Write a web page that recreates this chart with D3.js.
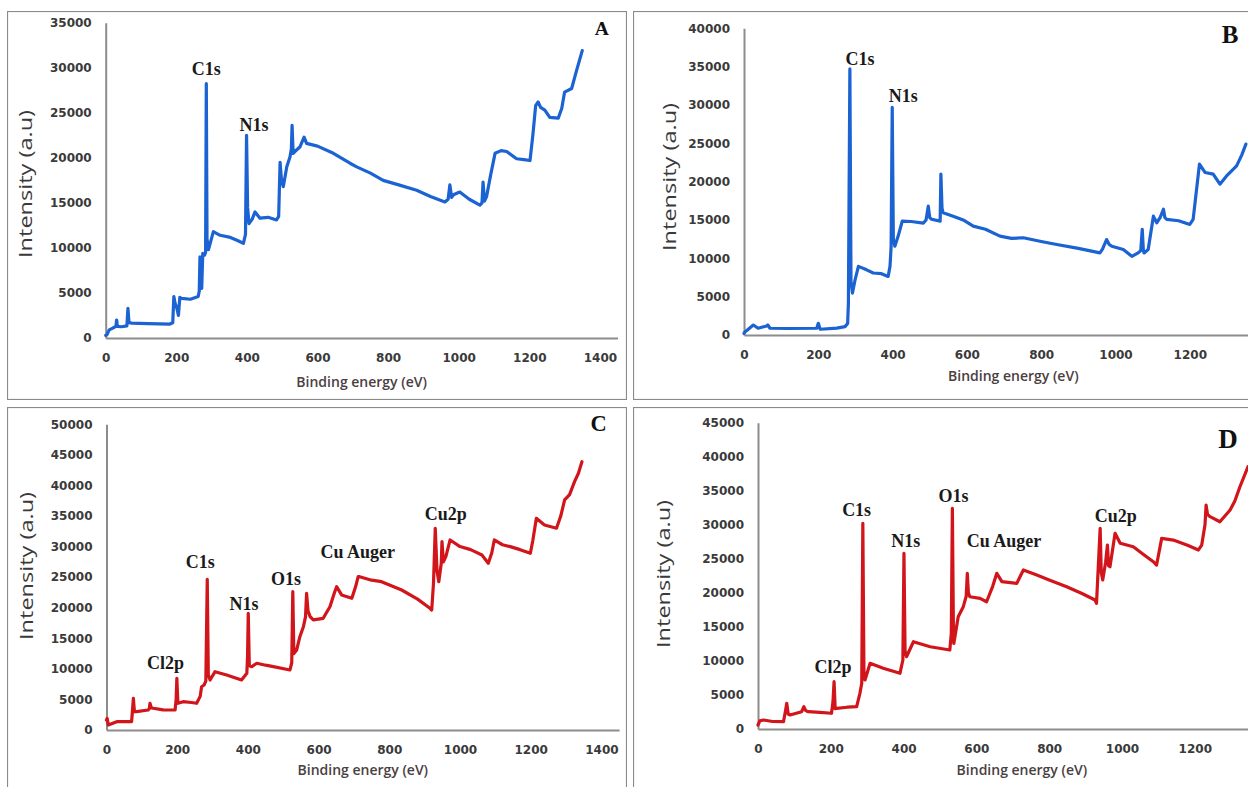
<!DOCTYPE html>
<html>
<head>
<meta charset="utf-8">
<script src="https://cdn.jsdelivr.net/npm/d3@7"></script>
<style>
  html, body { margin: 0; padding: 0; background: #fff; }
  svg { display: block; }
</style>
</head>
<body>
<svg id="fig" width="1248" height="787"></svg>
<script>
// XPS survey spectra: [binding energy (eV), intensity (a.u.)]
const spectrumA = [
  [0,300],[3,330],[10,900],[20,1100],[29,1300],[31,2000],[33,1300],[45,1250],[60,1350],[63,3300],[66,1700],[74,1660],
  [120,1600],[182,1550],[190,1700],[193,4600],[197,3800],[201,3400],[206,2500],[210,4500],[215,4400],[240,4300],
  [262,4600],[265,5200],[267,9000],[272,5500],[275,9400],[280,9200],[283,9500],[285,28250],[287,11000],[291,9800],
  [296,10500],[305,11800],[324,11400],[350,11200],[375,10800],[390,10500],[396,11500],[399,22500],[402,14500],
  [406,12700],[415,13200],[423,14000],[437,13300],[460,13400],[484,13100],[490,13500],[494,19500],[498,17500],
  [503,16800],[513,19000],[522,20100],[526,21000],[528,23600],[531,20500],[536,20700],[550,21200],[562,22300],
  [569,21600],[600,21300],[645,20500],[692,19400],[711,19000],[750,18300],[786,17500],[830,17000],[881,16400],
  [920,15700],[961,15100],[970,15400],[975,17000],[980,15600],[985,15900],[1003,16200],[1030,15400],[1060,14750],
  [1066,15000],[1069,17300],[1073,15200],[1079,15700],[1090,18000],[1103,20500],[1120,20800],[1136,20700],
  [1164,19900],[1185,19800],[1202,19700],[1210,22500],[1218,25800],[1225,26200],[1232,25600],[1244,25300],
  [1258,24500],[1282,24400],[1292,25500],[1300,27300],[1320,27700],[1334,29700],[1350,31900]
];
const spectrumB = [
  [0,200],[3,430],[10,700],[25,1300],[38,880],[61,1180],[64,1300],[70,880],[120,850],[196,880],[200,1530],[205,750],
  [250,900],[272,1090],[279,1500],[281,4150],[285,34700],[288,7000],[292,5470],[299,7200],[308,8950],[330,8500],
  [348,8090],[370,8000],[388,7640],[393,8950],[396,11500],[399,29700],[402,12500],[406,11580],[415,12900],
  [426,14850],[450,14800],[483,14600],[490,15000],[496,16800],[500,15300],[505,15100],[528,14850],[530,21000],
  [533,16500],[536,15950],[563,15500],[590,15000],[617,14200],[650,13800],[689,12900],[720,12600],[752,12680],
  [800,12200],[842,11800],[900,11300],[958,10710],[965,11200],[976,12450],[983,11800],[990,11580],[1021,11140],
  [1044,10260],[1061,10710],[1068,11000],[1072,13770],[1075,11000],[1077,10710],[1088,11140],[1102,15500],
  [1111,14640],[1120,15300],[1129,16400],[1133,15300],[1138,15080],[1170,14900],[1200,14420],[1209,15080],
  [1226,22290],[1241,21200],[1263,20980],[1281,19670],[1299,20750],[1326,22060],[1340,23500],[1351,24900]
];
const spectrumC = [
  [0,1636],[2,1900],[5,820],[29,1360],[71,1360],[73,2800],[76,5190],[79,3000],[85,3000],[118,3270],[121,3500],
  [123,4370],[127,3600],[132,3550],[160,3300],[194,3270],[197,5000],[199,8460],[202,4370],[217,4630],[240,4500],
  [255,4370],[265,5500],[269,7080],[276,7360],[281,8000],[285,24650],[288,9000],[293,8180],[307,9540],[340,9000],
  [382,8180],[397,9270],[399,12000],[401,19090],[404,10500],[411,10360],[425,10910],[450,10600],[472,10360],
  [519,9820],[524,11000],[527,22630],[530,12500],[538,13090],[547,15260],[557,16900],[563,18500],[566,22360],
  [570,19500],[576,18540],[585,18000],[613,18270],[632,20170],[645,22500],[651,23440],[665,22090],[694,21550],
  [705,23500],[712,25080],[716,25080],[750,24500],[778,24260],[835,22900],[880,21400],[915,19910],[920,19630],
  [925,24000],[930,33000],[935,26000],[940,24260],[947,27270],[949,30800],[953,27500],[960,28350],[972,31080],
  [1000,30000],[1030,29500],[1062,28630],[1080,27270],[1090,29000],[1097,31080],[1120,30300],[1142,29990],
  [1170,29500],[1199,28900],[1206,31000],[1216,34630],[1239,33540],[1273,33000],[1285,35000],[1296,37630],
  [1310,38500],[1324,40620],[1335,42000],[1345,43890]
];
const spectrumD = [
  [0,590],[5,1200],[15,1320],[40,1100],[70,1070],[75,2500],[79,3780],[83,2200],[88,2060],[120,2540],[126,3280],
  [131,2700],[138,2540],[170,2450],[202,2310],[206,4000],[209,6950],[212,3000],[216,3040],[245,3200],[271,3280],
  [280,5240],[285,6710],[288,30220],[291,8500],[294,7200],[308,9650],[344,8920],[390,8180],[398,10140],
  [401,25810],[404,11500],[408,10620],[427,12820],[473,12090],[527,11600],[531,14000],[534,32420],[537,13500],
  [538,12580],[550,16500],[564,17970],[572,19500],[575,22870],[578,20000],[582,19430],[610,19200],[628,18700],
  [645,21000],[656,22870],[670,21640],[711,21400],[729,23360],[766,22620],[800,21900],[848,20900],[890,19900],
  [926,18950],[930,18460],[935,24000],[940,29480],[943,23000],[947,21890],[955,24500],[960,27030],[963,24000],
  [967,23840],[981,28750],[995,27280],[1031,26780],[1060,25600],[1086,24580],[1095,24090],[1109,28010],
  [1141,27760],[1180,27000],[1210,26300],[1219,27030],[1228,30000],[1231,32900],[1235,31500],[1242,31190],
  [1269,30450],[1297,32170],[1310,33500],[1324,35590],[1346,38530]
];

// Peak assignments, anchored in data coordinates [label, eV, intensity]
const peaksA = [["C1s",285,29170],["N1s",420,22960]];
const peaksB = [["C1s",312,35270],["N1s",429,30400]];
const peaksC = [["Cl2p",167,9980],["C1s",265,26500],["N1s",389,19630],["O1s",508,23720],["Cu Auger",711,28140],["Cu2p",960,34360]];
const peaksD = [["Cl2p",206,8230],["C1s",271,31290],["N1s",406,26810],["O1s",537,33420],["Cu Auger",676,26740],["Cu2p",983,30410]];

// Axis limits and tick values
const xTicksLeft = [0,200,400,600,800,1000,1200,1400];   // panels A, C
const xTicksRight = [0,200,400,600,800,1000,1200];       // panels B, D (page edge cuts the axis)
const xMax = 1450;
const yMaxA = 35000, yMaxB = 40000, yMaxC = 50000, yMaxD = 45000;
const yStep = 5000;

const BLUE = "#1b62d3", RED = "#d2151a";
const AXIS_GREY = "#8c8c8c";

// Panel layout (pixels)
const panels = [
  { letter:"A", data:spectrumA, peaks:peaksA, yMax:yMaxA, color:BLUE, xTicks:xTicksLeft,
    frame:[7,11,620,389], x0:105.7, pxPerEv:0.353, yBottom:338, yTop:22.7,
    yTitle:[25,184], xTitleY:387, letterPos:[601.7,35,19.5] },
  { letter:"B", data:spectrumB, peaks:peaksB, yMax:yMaxB, color:BLUE, xTicks:xTicksRight,
    frame:[633,11,640,389], x0:744, pxPerEv:0.3715, yBottom:335, yTop:28.3,
    yTitle:[669,177], xTitleY:381, letterPos:[1230,43,25] },
  { letter:"C", data:spectrumC, peaks:peaksC, yMax:yMaxC, color:RED, xTicks:xTicksLeft,
    frame:[7,407,620,400], x0:106.5, pxPerEv:0.3535, yBottom:730, yTop:424.3,
    yTitle:[26,566], xTitleY:775, letterPos:[598.6,431,22.5] },
  { letter:"D", data:spectrumD, peaks:peaksD, yMax:yMaxD, color:RED, xTicks:xTicksRight,
    frame:[633,407,640,400], x0:758, pxPerEv:0.364, yBottom:729, yTop:422.7,
    yTitle:[663.5,574], xTitleY:775, letterPos:[1228,448,27] }
];

const svg = d3.select("#fig");
const defs = svg.append("defs");

panels.forEach(p => {
  const [fx, fy, fw, fh] = p.frame;
  const clipId = "clip" + p.letter;
  defs.append("clipPath").attr("id", clipId)
    .append("rect").attr("x", fx).attr("y", fy).attr("width", fw).attr("height", fh);

  const g = svg.append("g").attr("clip-path", `url(#${clipId})`);

  // panel frame
  g.append("rect").attr("x", fx).attr("y", fy).attr("width", fw).attr("height", fh)
    .attr("fill", "#fff").attr("stroke", "#8a8a8a").attr("stroke-width", 2.2);

  const x = d3.scaleLinear().domain([0, xMax]).range([p.x0, p.x0 + xMax * p.pxPerEv]);
  const y = d3.scaleLinear().domain([0, p.yMax]).range([p.yBottom, p.yTop]);

  const yTicks = d3.range(0, p.yMax + 1, yStep);

  const yAxis = g.append("g").attr("transform", `translate(${p.x0},0)`)
    .call(d3.axisLeft(y).tickValues(yTicks).tickSize(0).tickSizeOuter(0).tickPadding(14).tickFormat(d3.format("d")));
  const xAxis = g.append("g").attr("transform", `translate(0,${p.yBottom})`)
    .call(d3.axisBottom(x).tickValues(p.xTicks).tickSize(0).tickSizeOuter(0).tickPadding(15).tickFormat(d3.format("d")));

  [yAxis, xAxis].forEach(ax => {
    ax.select(".domain").attr("stroke", AXIS_GREY).attr("stroke-width", 2);
    ax.selectAll("text").attr("font-family", "DejaVu Sans").attr("font-weight", "bold")
      .attr("font-size", 12).attr("fill", "#3a3a3a");
  });

  // spectrum
  const line = d3.line().x(d => x(d[0])).y(d => y(d[1]));
  g.append("path").datum(p.data).attr("d", line)
    .attr("fill", "none").attr("stroke", p.color).attr("stroke-width", 3.2)
    .attr("stroke-linejoin", "round").attr("stroke-linecap", "round");

  // peak labels
  g.selectAll("text.peak").data(p.peaks).join("text").attr("class", "peak")
    .attr("x", d => x(d[1])).attr("y", d => y(d[2]))
    .attr("text-anchor", "middle")
    .attr("font-family", "Liberation Serif").attr("font-weight", "bold").attr("font-size", 18)
    .attr("fill", "#1a1a1a").text(d => d[0]);

  // panel letter
  g.append("text").attr("x", p.letterPos[0]).attr("y", p.letterPos[1])
    .attr("text-anchor", "middle").attr("font-family", "Liberation Serif").attr("font-weight", "bold")
    .attr("font-size", p.letterPos[2]).attr("fill", "#111").text(p.letter);

  // axis titles
  g.append("text")
    .attr("transform", `translate(${p.yTitle[0]},${p.yTitle[1]}) rotate(-90)`)
    .attr("text-anchor", "middle").attr("dy", "0.35em")
    .attr("font-family", "Open Sans").attr("font-size", 19).attr("fill", "#3a3a3a")
    .attr("textLength", 148).attr("lengthAdjust", "spacingAndGlyphs")
    .text("Intensity (a.u)");

  g.append("text")
    .attr("x", (x(0) + x(xMax)) / 2).attr("y", p.xTitleY)
    .attr("text-anchor", "middle")
    .attr("font-family", "Open Sans").attr("font-weight", 600).attr("font-size", 14).attr("fill", "#4a4040")
    .text("Binding energy (eV)");
});
</script>
</body>
</html>
